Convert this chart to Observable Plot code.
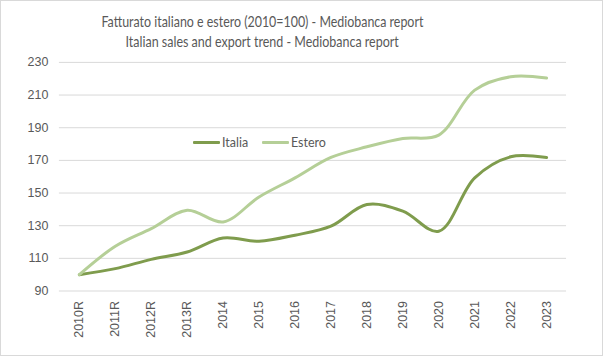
<!DOCTYPE html>
<html>
<head>
<meta charset="utf-8">
<script src="https://cdn.jsdelivr.net/npm/d3@7"></script>
<script src="https://cdn.jsdelivr.net/npm/@observablehq/plot@0.6"></script>
<style>
  html, body { margin: 0; padding: 0; background: #fff; }
  #wrap { position: relative; width: 601px; height: 354px; border: 1px solid #d9d9d9; overflow: hidden; background:#fff; }
  .tl { position: absolute; white-space: nowrap; font-family: Lato, "Open Sans", sans-serif; font-size: 16px; line-height: 20px; color: #595959; transform-origin: center center; }
  #chart { position: absolute; left: -1px; top: -1px; }
  .leg { position: absolute; top: 134px; font-family: Lato, "Open Sans", sans-serif; font-size: 12.5px; color: #595959; display: flex; align-items: center; }
  .sw { display: inline-block; width: 27px; height: 3px; margin-right: 2px; border-radius: 1px; }
</style>
</head>
<body>
<div id="wrap">
  <div id="chart"></div>
  <div class="tl" id="t1" data-w="322" data-cy="20">Fatturato italiano e estero (2010=100) - Mediobanca report</div>
  <div class="tl" id="t2" data-w="273" data-cy="40">Italian sales and export trend - Mediobanca report</div>
  <div class="leg" style="left:192px"><span class="sw" id="sw1"></span><span id="l1"></span></div>
  <div class="leg" style="left:261px"><span class="sw" id="sw2"></span><span id="l2"></span></div>
</div>
<script>
const years = ["2010R","2011R","2012R","2013R","2014","2015","2016","2017","2018","2019","2020","2021","2022","2023"];
const italia = [100, 103.7, 109.4, 113.9, 122.5, 120.5, 124.2, 129.7, 143, 138.9, 126.6, 159.3, 172.2, 171.8];
const estero = [100, 117.4, 128.2, 139.5, 132.3, 147.6, 159.3, 171.8, 178.3, 183.4, 185.5, 213, 221.2, 220.4];
const seriesNames = ["Italia", "Estero"];
const seriesColors = ["#7f9c4d", "#b5cf97"];
const yTicks = [90, 110, 130, 150, 170, 190, 210, 230];

const rows = [];
years.forEach((y, i) => {
  rows.push({year: y, value: italia[i], series: seriesNames[0]});
  rows.push({year: y, value: estero[i], series: seriesNames[1]});
});

document.getElementById("sw1").style.background = seriesColors[0];
document.getElementById("sw2").style.background = seriesColors[1];
document.getElementById("l1").textContent = seriesNames[0];
document.getElementById("l2").textContent = seriesNames[1];

// fit title lines to the reference widths, centred at x=261
for (const id of ["t1", "t2"]) {
  const el = document.getElementById(id);
  const w = el.offsetWidth, h = el.offsetHeight;
  const target = +el.dataset.w, cy = +el.dataset.cy, cx = 261;
  el.style.left = (cx - w / 2) + "px";
  el.style.top = (cy - h / 2) + "px";
  el.style.transform = `scaleX(${target / w})`;
}

const chart = Plot.plot({
  width: 603,
  height: 357,
  marginLeft: 59,
  marginRight: 36,
  marginTop: 62,
  marginBottom: 66,
  style: {fontFamily: "'Liberation Sans', Arial, sans-serif", fontSize: "12.5px", color: "#595959", background: "transparent"},
  x: {type: "point", domain: years, padding: 0.5, label: null},
  y: {domain: [90, 230], ticks: yTicks, label: null},
  color: {domain: seriesNames, range: seriesColors},
  marks: [
    Plot.ruleY(yTicks, {stroke: "#d9d9d9", strokeWidth: 1}),
    Plot.axisY({ticks: yTicks, tickSize: 0, tickPadding: 11, label: null, fill: "#595959", fontSize: 12.5}),
    Plot.axisX({tickSize: 0, tickPadding: 10, tickRotate: -90, label: null, fill: "#595959", fontSize: 12.5}),
    Plot.line(rows, {x: "year", y: "value", z: "series", stroke: "series", strokeWidth: 3, curve: "catmull-rom", strokeLinecap: "round"})
  ]
});
document.getElementById("chart").appendChild(chart);
</script>
</body>
</html>
